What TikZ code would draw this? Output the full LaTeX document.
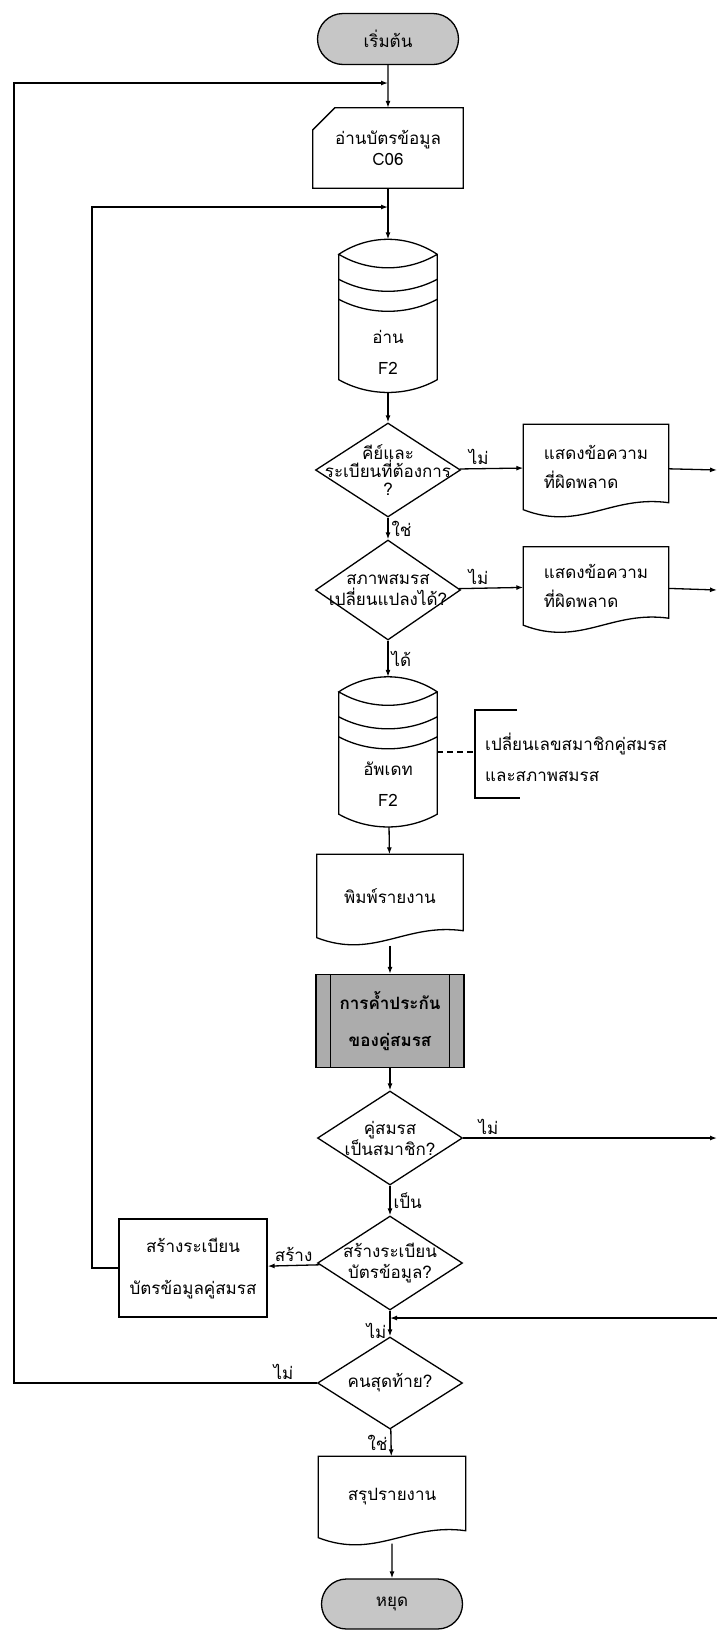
\documentclass[tikz,border=0pt]{standalone}
\usepackage{fontspec}
\newfontfamily\thaifont[Script=Thai]{Loma}
\usetikzlibrary{arrows.meta, shapes.geometric, shapes.misc, positioning}

\tikzset{
  line/.style={line width=1.3pt},
  flow/.style={line, -{Latex[length=7pt,width=5pt]}},
  txt/.style={font=\thaifont\fontsize{17}{21}\selectfont, align=center, inner sep=2pt},
  terminal/.style={txt, rounded rectangle, draw, line, fill=gray!45, minimum width=145pt, minimum height=51pt},
  decision/.style={diamond, draw, line, minimum width=145pt, minimum height=94pt, inner sep=0pt},
  frame/.style={txt, minimum width=146pt, minimum height=84pt, inner sep=0pt},
  procbox/.style={txt, draw, line, minimum width=148pt, minimum height=98pt},
  predef/.style={txt, draw, line, fill=gray!65, font=\thaifont\bfseries\fontsize{17}{21}\selectfont, minimum width=148pt, minimum height=93pt},
  lbl/.style={font=\thaifont\fontsize{17}{19}\selectfont, inner sep=3pt}
}

\newcommand{\docshape}[1]{%
  \draw[line] (#1.south west) -- (#1.north west) -- (#1.north east) -- ([yshift=7pt]#1.south east)
    .. controls +(-58pt,8pt) and +(57pt,-22pt) .. (#1.south west) -- cycle;}
\newcommand{\diskshape}[1]{%
  \draw[line] ([yshift=-15pt]#1.north west) -- ([yshift=13pt]#1.south west)
    .. controls +(30pt,-17pt) and +(-30pt,-17pt) .. ([yshift=13pt]#1.south east)
    -- ([yshift=-15pt]#1.north east)
    .. controls +(-30pt,20pt) and +(30pt,20pt) .. ([yshift=-15pt]#1.north west)
    .. controls +(30pt,-18pt) and +(-30pt,-18pt) .. ([yshift=-15pt]#1.north east);
  \draw[line] ([yshift=-40pt]#1.north west) .. controls +(30pt,-16pt) and +(-30pt,-16pt) .. ([yshift=-40pt]#1.north east);
  \draw[line] ([yshift=-60pt]#1.north west) .. controls +(30pt,-16pt) and +(-30pt,-16pt) .. ([yshift=-60pt]#1.north east);}

\begin{document}
\begin{tikzpicture}[x=1pt,y=1pt]
\useasboundingbox (0,0) rectangle (717,-1631);

\node[terminal] (start) at (388,-39) {เริ่มต้น};
\node[frame, minimum width=150pt, minimum height=80pt] (readcard) at (388,-148) {อ่านบัตรข้อมูล\\C06};
\draw[line] ([yshift=-22pt]readcard.north west) -- ([xshift=22pt]readcard.north west) -- (readcard.north east) -- (readcard.south east) -- (readcard.south west) -- cycle;

\node[frame, minimum width=98pt, minimum height=153pt] (readf2) at (388,-316) {};
\diskshape{readf2}
\node[txt] (readf2t) at ([yshift=-36pt]readf2.center) {อ่าน\\[10pt]F2};

\node[decision] (chkkey) at (388,-470) {};
\node[txt, font=\thaifont\fontsize{17}{18}\selectfont] (chkkeyt) at (chkkey) {คีย์และ\\ระเบียนที่ต้องการ\\?};
\node[frame, minimum width=145pt, minimum height=85pt, align=left] (errkey) at (596,-467) {แสดงข้อความ\\[8pt]ที่ผิดพลาด};
\docshape{errkey}

\node[decision, minimum height=100pt] (chkstat) at (388,-590) {};
\node[txt] (chkstatt) at (chkstat) {สภาพสมรส\\เปลี่ยนแปลงได้?};
\node[frame, minimum width=145pt, minimum height=78pt, align=left] (errstat) at (596,-586) {แสดงข้อความ\\[8pt]ที่ผิดพลาด};
\docshape{errstat}

\node[frame, minimum width=98pt, minimum height=150pt] (updf2) at (388,-752) {};
\diskshape{updf2}
\node[txt] (updf2t) at ([yshift=-32pt]updf2.center) {อัพเดท\\[10pt]F2};
\node[txt, align=left, anchor=west] (updnote) at (483,-757) {เปลี่ยนเลขสมาชิกคู่สมรส\\[10pt]และสภาพสมรส};
\coordinate (brk) at (475,-752);
\draw[line] (517,-710) -- (475,-710) -- (475,-798) -- (520,-798);
\draw[line, dash pattern=on 6pt off 4pt] (updf2.east) -- (brk);

\node[frame, minimum width=146pt, minimum height=83pt] (prnrep) at (390,-896) {พิมพ์รายงาน};
\docshape{prnrep}

\node[predef] (guar) at (390,-1021) {การค้ำประกัน\\[16pt]ของคู่สมรส};
\draw[line] ([xshift=15pt]guar.north west) -- ([xshift=15pt]guar.south west);
\draw[line] ([xshift=-15pt]guar.north east) -- ([xshift=-15pt]guar.south east);

\node[decision] (chkmem) at (390,-1138) {};
\node[txt] (chkmemt) at (chkmem) {คู่สมรส\\เป็นสมาชิก?};

\node[decision] (chkreg) at (390,-1263) {};
\node[txt] (chkregt) at (chkreg) {สร้างระเบียน\\บัตรข้อมูล?};
\node[procbox] (mkreg) at (193,-1268) {สร้างระเบียน\\[21pt]บัตรข้อมูลคู่สมรส};

\node[decision, minimum height=92pt] (chklast) at (390,-1383) {};
\node[txt] (chklastt) at (chklast) {คนสุดท้าย?};

\node[frame, minimum width=147pt, minimum height=81pt] (sumrep) at (392,-1497) {สรุปรายงาน};
\docshape{sumrep}
\node[terminal, minimum height=50pt] (stop) at (392,-1604) {หยุด};

\coordinate (joina) at (388,-83);
\coordinate (joinb) at (388,-207);
\coordinate (outer) at (14,-1383);
\coordinate (inner) at (92,-1268);
\coordinate (rkey) at (717,-470);
\coordinate (rstat) at (717,-590);
\coordinate (rmem) at (717,-1138);
\coordinate (rback) at (717,-1318);

\draw[flow] (start) -- (readcard);
\draw[flow] (readcard) -- (readf2);
\draw[flow] (readf2) -- (chkkey);
\draw[flow] (chkkey) -- node[lbl, above, pos=0.3] {ไม่} (errkey);
\draw[flow] (errkey) -- (rkey);
\draw[flow] (chkkey) -- node[lbl, right, midway] {ใช่} (chkstat);
\draw[flow] (chkstat) -- node[lbl, above, pos=0.3] {ไม่} (errstat);
\draw[flow] (errstat) -- (rstat);
\draw[flow] (chkstat) -- node[lbl, right, midway] {ได้} (updf2);
\draw[flow] (updf2) -- (prnrep);
\draw[flow] ([yshift=-8pt]prnrep.south) -- (guar);
\draw[flow] (guar) -- (chkmem);
\draw[flow] (chkmem) -- node[lbl, above, pos=0.1] {ไม่} (rmem);
\draw[flow] (chkmem) -- node[lbl, right, midway] {เป็น} (chkreg);
\draw[flow] (chkreg) -- node[lbl, above, midway] {สร้าง} (mkreg);
\draw[flow] (mkreg) -- (inner) |- (joinb);
\draw[flow] (chkreg) -- node[lbl, left, pos=0.78] {ไม่} (chklast);
\draw[flow] (rback) -- (chkreg.south |- rback);
\draw[flow] (chklast) -- node[lbl, above, pos=0.11] {ไม่} (outer) |- (joina);
\draw[flow] (chklast) -- node[lbl, left, midway] {ใช่} (sumrep);
\draw[flow] ([yshift=-6pt]sumrep.south) -- (stop);
\end{tikzpicture}
\end{document}
